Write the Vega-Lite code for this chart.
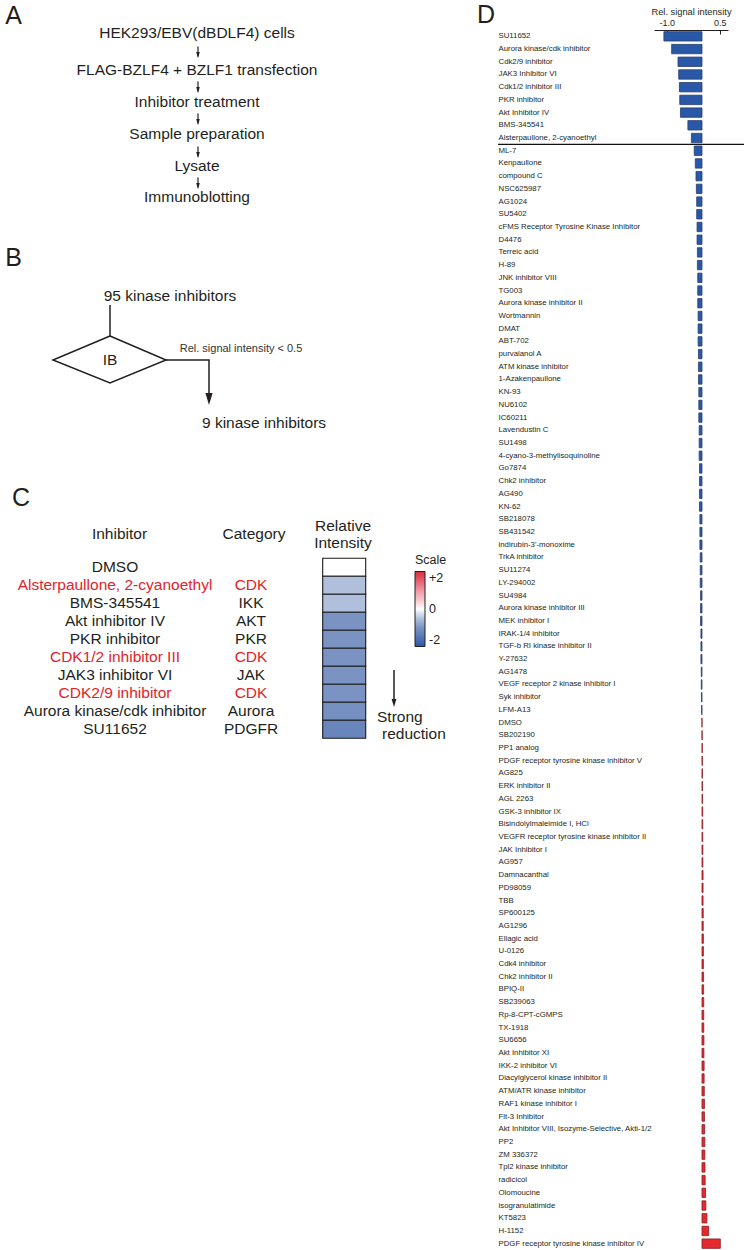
{
  "$schema": "https://vega.github.io/schema/vega-lite/v6.json",
  "background": "white",
  "padding": {"top": 0, "left": 0, "right": 0, "bottom": 0},
  "spacing": 1,
  "config": {"view": {"stroke": null}, "font": "Liberation Sans"},
  "datasets": {
    "c": [
      {"inhibitor": "DMSO", "category": "", "intensity": 0},
      {"inhibitor": "Alsterpaullone, 2-cyanoethyl", "category": "CDK", "intensity": -0.5},
      {"inhibitor": "BMS-345541", "category": "IKK", "intensity": -0.5},
      {"inhibitor": "Akt inhibitor IV", "category": "AKT", "intensity": -1.0},
      {"inhibitor": "PKR inhibitor", "category": "PKR", "intensity": -1.0},
      {"inhibitor": "CDK1/2 inhibitor III", "category": "CDK", "intensity": -1.0},
      {"inhibitor": "JAK3 inhibitor VI", "category": "JAK", "intensity": -1.0},
      {"inhibitor": "CDK2/9 inhibitor", "category": "CDK", "intensity": -1.0},
      {"inhibitor": "Aurora kinase/cdk inhibitor", "category": "Aurora", "intensity": -1.05},
      {"inhibitor": "SU11652", "category": "PDGFR", "intensity": -1.25}
    ],
    "d": [
      {"name": "SU11652", "value": -1.08},
      {"name": "Aurora kinase/cdk inhibitor", "value": -0.86},
      {"name": "Cdk2/9 inhibitor", "value": -0.68},
      {"name": "JAK3 Inhibitor VI", "value": -0.66},
      {"name": "Cdk1/2 inhibitor III", "value": -0.64},
      {"name": "PKR inhibitor", "value": -0.63},
      {"name": "Akt Inhibitor IV", "value": -0.61},
      {"name": "BMS-345541", "value": -0.40},
      {"name": "Alsterpaullone, 2-cyanoethyl", "value": -0.30},
      {"name": "ML-7", "value": -0.22},
      {"name": "Kenpaullone", "value": -0.19},
      {"name": "compound C", "value": -0.17},
      {"name": "NSC625987", "value": -0.16},
      {"name": "AG1024", "value": -0.15},
      {"name": "SU5402", "value": -0.15},
      {"name": "cFMS Receptor Tyrosine Kinase Inhibitor", "value": -0.14},
      {"name": "D4476", "value": -0.14},
      {"name": "Terreic acid", "value": -0.13},
      {"name": "H-89", "value": -0.13},
      {"name": "JNK inhibitor VIII", "value": -0.12},
      {"name": "TG003", "value": -0.12},
      {"name": "Aurora kinase inhibitor II", "value": -0.12},
      {"name": "Wortmannin", "value": -0.11},
      {"name": "DMAT", "value": -0.11},
      {"name": "ABT-702", "value": -0.11},
      {"name": "purvalanol A", "value": -0.10},
      {"name": "ATM kinase inhibitor", "value": -0.10},
      {"name": "1-Azakenpaullone", "value": -0.10},
      {"name": "KN-93", "value": -0.09},
      {"name": "NU6102", "value": -0.09},
      {"name": "IC60211", "value": -0.09},
      {"name": "Lavendustin C", "value": -0.08},
      {"name": "SU1498", "value": -0.08},
      {"name": "4-cyano-3-methylisoquinoline", "value": -0.08},
      {"name": "Go7874", "value": -0.07},
      {"name": "Chk2 inhibitor", "value": -0.07},
      {"name": "AG490", "value": -0.07},
      {"name": "KN-62", "value": -0.07},
      {"name": "SB218078", "value": -0.06},
      {"name": "SB431542", "value": -0.06},
      {"name": "indirubin-3'-monoxime", "value": -0.06},
      {"name": "TrkA inhibitor", "value": -0.05},
      {"name": "SU11274", "value": -0.05},
      {"name": "LY-294002", "value": -0.05},
      {"name": "SU4984", "value": -0.04},
      {"name": "Aurora kinase inhibitor III", "value": -0.04},
      {"name": "MEK inhibitor I", "value": -0.04},
      {"name": "IRAK-1/4 inhibitor", "value": -0.03},
      {"name": "TGF-b RI kinase inhibitor II", "value": -0.03},
      {"name": "Y-27632", "value": -0.03},
      {"name": "AG1478", "value": -0.02},
      {"name": "VEGF receptor 2 kinase inhibitor I", "value": -0.02},
      {"name": "Syk inhibitor", "value": -0.015},
      {"name": "LFM-A13", "value": -0.01},
      {"name": "DMSO", "value": 0},
      {"name": "SB202190", "value": 0.005},
      {"name": "PP1 analog", "value": 0.01},
      {"name": "PDGF receptor tyrosine kinase inhibitor V", "value": 0.01},
      {"name": "AG825", "value": 0.012},
      {"name": "ERK inhibitor II", "value": 0.015},
      {"name": "AGL 2263", "value": 0.015},
      {"name": "GSK-3 inhibitor IX", "value": 0.02},
      {"name": "Bisindolylmaleimide I, HCl", "value": 0.02},
      {"name": "VEGFR receptor tyrosine kinase inhibitor II", "value": 0.02},
      {"name": "JAK Inhibitor I", "value": 0.025},
      {"name": "AG957", "value": 0.025},
      {"name": "Damnacanthal", "value": 0.03},
      {"name": "PD98059", "value": 0.03},
      {"name": "TBB", "value": 0.03},
      {"name": "SP600125", "value": 0.035},
      {"name": "AG1296", "value": 0.035},
      {"name": "Ellagic acid", "value": 0.04},
      {"name": "U-0126", "value": 0.04},
      {"name": "Cdk4 inhibitor", "value": 0.04},
      {"name": "Chk2 inhibitor II", "value": 0.045},
      {"name": "BPIQ-II", "value": 0.045},
      {"name": "SB239063", "value": 0.05},
      {"name": "Rp-8-CPT-cGMPS", "value": 0.05},
      {"name": "TX-1918", "value": 0.05},
      {"name": "SU6656", "value": 0.055},
      {"name": "Akt Inhibitor XI", "value": 0.055},
      {"name": "IKK-2 inhibitor VI", "value": 0.06},
      {"name": "Diacylglycerol kinase inhibitor II", "value": 0.06},
      {"name": "ATM/ATR kinase inhibitor", "value": 0.065},
      {"name": "RAF1 kinase inhibitor I", "value": 0.07},
      {"name": "Flt-3 Inhibitor", "value": 0.07},
      {"name": "Akt Inhibitor VIII, Isozyme-Selective, Akti-1/2", "value": 0.075},
      {"name": "PP2", "value": 0.08},
      {"name": "ZM 336372", "value": 0.08},
      {"name": "Tpl2 kinase inhibitor", "value": 0.085},
      {"name": "radicicol", "value": 0.09},
      {"name": "Olomoucine", "value": 0.10},
      {"name": "isogranulatimide", "value": 0.11},
      {"name": "KT5823", "value": 0.14},
      {"name": "H-1152", "value": 0.19},
      {"name": "PDGF receptor tyrosine kinase inhibitor IV", "value": 0.52}
    ]
  },
  "hconcat": [
    {
      "width": 496,
      "height": 1220,
      "resolve": {"scale": {"y": "independent"}},
      "layer": [
        {
          "data": {"values": [
            {"t": "A", "x": 13.5, "y": 16},
            {"t": "B", "x": 13.5, "y": 258},
            {"t": "C", "x": 21, "y": 498},
            {"t": "D", "x": 486, "y": 15}
          ]},
          "mark": {"type": "text", "fontSize": 25, "color": "#231f20", "align": "center", "baseline": "middle"},
          "encoding": {
            "x": {"field": "x", "type": "quantitative", "scale": {"domain": [0, 496], "nice": false, "zero": false}, "axis": null},
            "y": {"field": "y", "type": "quantitative", "scale": {"domain": [1250, 30], "nice": false, "zero": false}, "axis": null},
            "text": {"field": "t"}
          }
        },
        {
          "data": {"values": [
            {"t": "HEK293/EBV(dBDLF4) cells", "x": 197, "y": 33},
            {"t": "FLAG-BZLF4 + BZLF1 transfection", "x": 197, "y": 70},
            {"t": "Inhibitor treatment", "x": 197, "y": 102},
            {"t": "Sample preparation", "x": 197, "y": 134},
            {"t": "Lysate", "x": 197, "y": 166},
            {"t": "Immunoblotting", "x": 197, "y": 197},
            {"t": "95 kinase inhibitors", "x": 170, "y": 296},
            {"t": "IB", "x": 110, "y": 360},
            {"t": "9 kinase inhibitors", "x": 264, "y": 423},
            {"t": "Inhibitor", "x": 119.5, "y": 534},
            {"t": "Category", "x": 254, "y": 534},
            {"t": "Relative", "x": 343, "y": 526},
            {"t": "Intensity", "x": 343, "y": 543}
          ]},
          "mark": {"type": "text", "fontSize": 15.5, "color": "#231f20", "align": "center", "baseline": "middle"},
          "encoding": {
            "x": {"field": "x", "type": "quantitative", "scale": {"domain": [0, 496], "nice": false, "zero": false}, "axis": null},
            "y": {"field": "y", "type": "quantitative", "scale": {"domain": [1250, 30], "nice": false, "zero": false}, "axis": null},
            "text": {"field": "t"}
          }
        },
        {
          "data": {"values": [
            {"t": "Strong", "x": 377, "y": 717},
            {"t": "reduction", "x": 382, "y": 734}
          ]},
          "mark": {"type": "text", "fontSize": 15.5, "color": "#231f20", "align": "left", "baseline": "middle"},
          "encoding": {
            "x": {"field": "x", "type": "quantitative", "scale": {"domain": [0, 496], "nice": false, "zero": false}, "axis": null},
            "y": {"field": "y", "type": "quantitative", "scale": {"domain": [1250, 30], "nice": false, "zero": false}, "axis": null},
            "text": {"field": "t"}
          }
        },
        {
          "data": {"values": [
            {"t": "Rel. signal intensity < 0.5", "x": 241, "y": 349}
          ]},
          "mark": {"type": "text", "fontSize": 11, "color": "#333333", "align": "center", "baseline": "middle"},
          "encoding": {
            "x": {"field": "x", "type": "quantitative", "scale": {"domain": [0, 496], "nice": false, "zero": false}, "axis": null},
            "y": {"field": "y", "type": "quantitative", "scale": {"domain": [1250, 30], "nice": false, "zero": false}, "axis": null},
            "text": {"field": "t"}
          }
        },
        {
          "data": {"values": [
            {"x": 198, "y": 46.5, "y2": 56.5},
            {"x": 198, "y": 81.5, "y2": 91.5},
            {"x": 198, "y": 113.5, "y2": 123.5},
            {"x": 198, "y": 146.5, "y2": 156.5},
            {"x": 198, "y": 177.5, "y2": 187.5}
          ]},
          "mark": {"type": "rule", "color": "#231f20", "strokeWidth": 1.2},
          "encoding": {
            "x": {"field": "x", "type": "quantitative", "scale": {"domain": [0, 496], "nice": false, "zero": false}, "axis": null},
            "y": {"field": "y", "type": "quantitative", "scale": {"domain": [1250, 30], "nice": false, "zero": false}, "axis": null},
            "y2": {"field": "y2"}
          }
        },
        {
          "data": {"values": [
            {"x": 198, "y": 55},
            {"x": 198, "y": 90},
            {"x": 198, "y": 122},
            {"x": 198, "y": 155},
            {"x": 198, "y": 186}
          ]},
          "mark": {"type": "point", "shape": "M-0.6,-1L0.6,-1L0,1Z", "filled": true, "color": "#231f20", "opacity": 1, "size": 36},
          "encoding": {
            "x": {"field": "x", "type": "quantitative", "scale": {"domain": [0, 496], "nice": false, "zero": false}, "axis": null},
            "y": {"field": "y", "type": "quantitative", "scale": {"domain": [1250, 30], "nice": false, "zero": false}, "axis": null}
          }
        },
        {
          "data": {"values": [
            {"x": 110, "y": 305, "y2": 336},
            {"x": 394, "y": 670, "y2": 702}
          ]},
          "mark": {"type": "rule", "color": "#231f20", "strokeWidth": 1.5},
          "encoding": {
            "x": {"field": "x", "type": "quantitative", "scale": {"domain": [0, 496], "nice": false, "zero": false}, "axis": null},
            "y": {"field": "y", "type": "quantitative", "scale": {"domain": [1250, 30], "nice": false, "zero": false}, "axis": null},
            "y2": {"field": "y2"}
          }
        },
        {
          "data": {"values": [
            {"path": "diamond", "ord": 0, "x": 110, "y": 336},
            {"path": "diamond", "ord": 1, "x": 166, "y": 360},
            {"path": "diamond", "ord": 2, "x": 110, "y": 383},
            {"path": "diamond", "ord": 3, "x": 53, "y": 360},
            {"path": "diamond", "ord": 4, "x": 110, "y": 336},
            {"path": "connector", "ord": 0, "x": 166, "y": 360},
            {"path": "connector", "ord": 1, "x": 209, "y": 360},
            {"path": "connector", "ord": 2, "x": 209, "y": 397}
          ]},
          "mark": {"type": "line", "color": "#231f20", "strokeWidth": 1.5, "strokeJoin": "miter"},
          "encoding": {
            "x": {"field": "x", "type": "quantitative", "scale": {"domain": [0, 496], "nice": false, "zero": false}, "axis": null},
            "y": {"field": "y", "type": "quantitative", "scale": {"domain": [1250, 30], "nice": false, "zero": false}, "axis": null},
            "detail": {"field": "path"},
            "order": {"field": "ord", "type": "quantitative"}
          }
        },
        {
          "data": {"values": [{"x": 209, "y": 399}]},
          "mark": {"type": "point", "shape": "M-0.6,-1L0.6,-1L0,1Z", "filled": true, "color": "#231f20", "opacity": 1, "size": 144},
          "encoding": {
            "x": {"field": "x", "type": "quantitative", "scale": {"domain": [0, 496], "nice": false, "zero": false}, "axis": null},
            "y": {"field": "y", "type": "quantitative", "scale": {"domain": [1250, 30], "nice": false, "zero": false}, "axis": null}
          }
        },
        {
          "data": {"values": [{"x": 394, "y": 703}]},
          "mark": {"type": "point", "shape": "M-0.6,-1L0.6,-1L0,1Z", "filled": true, "color": "#231f20", "opacity": 1, "size": 64},
          "encoding": {
            "x": {"field": "x", "type": "quantitative", "scale": {"domain": [0, 496], "nice": false, "zero": false}, "axis": null},
            "y": {"field": "y", "type": "quantitative", "scale": {"domain": [1250, 30], "nice": false, "zero": false}, "axis": null}
          }
        },
        {
          "data": {"name": "c"},
          "mark": {"type": "text", "fontSize": 15.5, "align": "center", "baseline": "middle"},
          "encoding": {
            "x": {"datum": 115, "type": "quantitative", "scale": {"domain": [0, 496], "nice": false, "zero": false}, "axis": null},
            "y": {"field": "inhibitor", "type": "nominal", "sort": null, "scale": {"type": "band", "range": [528.3, 708.3], "paddingInner": 0, "paddingOuter": 0}, "axis": null},
            "text": {"field": "inhibitor"},
            "color": {"condition": {"test": "datum.category == 'CDK'", "value": "#e2232a"}, "value": "#231f20"}
          }
        },
        {
          "data": {"name": "c"},
          "mark": {"type": "text", "fontSize": 15.5, "align": "center", "baseline": "middle"},
          "encoding": {
            "x": {"datum": 251, "type": "quantitative", "scale": {"domain": [0, 496], "nice": false, "zero": false}, "axis": null},
            "y": {"field": "inhibitor", "type": "nominal", "sort": null, "scale": {"type": "band", "range": [528.3, 708.3], "paddingInner": 0, "paddingOuter": 0}, "axis": null},
            "text": {"field": "category"},
            "color": {"condition": {"test": "datum.category == 'CDK'", "value": "#e2232a"}, "value": "#231f20"}
          }
        },
        {
          "data": {"name": "c"},
          "mark": {"type": "rect", "stroke": "#1a1a1a", "strokeWidth": 1.1},
          "encoding": {
            "x": {"datum": 322.7, "type": "quantitative", "scale": {"domain": [0, 496], "nice": false, "zero": false}, "axis": null},
            "x2": {"datum": 365.7},
            "y": {"field": "inhibitor", "type": "nominal", "sort": null, "scale": {"type": "band", "range": [528.3, 708.3], "paddingInner": 0, "paddingOuter": 0}, "axis": null},
            "fill": {
              "field": "intensity",
              "type": "quantitative",
              "scale": {
                "domain": [-2, -1.5, -1, -0.5, 0, 0.5, 1, 1.5, 2],
                "range": ["#2c55a3", "#5577b6", "#7a93c2", "#b0c0dc", "#ffffff", "#f6c4ca", "#ef96a1", "#e5606f", "#d62f3f"],
                "interpolate": "rgb"
              },
              "legend": {
                "orient": "none",
                "legendX": 415,
                "legendY": 524,
                "direction": "vertical",
                "title": "Scale",
                "titleFontSize": 12.5,
                "titleFontWeight": "normal",
                "titleColor": "#231f20",
                "titlePadding": 5,
                "gradientLength": 75,
                "gradientThickness": 10,
                "gradientStrokeColor": "#231f20",
                "gradientStrokeWidth": 1,
                "values": [-2, 0, 2],
                "labelExpr": "datum.value > 0 ? '+' + datum.value : '' + datum.value",
                "labelFontSize": 12.5,
                "labelColor": "#231f20",
                "labelOffset": 4
              }
            }
          }
        }
      ]
    },
    {
      "width": 74,
      "height": 1220,
      "data": {"name": "d"},
      "layer": [
        {
          "mark": {"type": "bar", "strokeWidth": 0.8},
          "encoding": {
            "y": {
              "field": "name", "type": "nominal", "sort": null,
              "scale": {"paddingInner": 0.26, "paddingOuter": 0.13},
              "axis": {"title": null, "ticks": false, "domain": false, "labelAlign": "left", "labelPadding": 156, "labelFontSize": 7.8, "labelColor": "#231f20", "labelLimit": 220, "labelOverlap": false, "labelBaseline": "middle"}
            },
            "x": {
              "field": "value", "type": "quantitative",
              "scale": {"domain": [-1.36, 0.737], "nice": false},
              "axis": {"orient": "top", "values": [-1, 0.5], "format": ".1f", "labelExpr": "replace(datum.label, '\u2212', '-')", "title": ["", "Rel. signal intensity"], "titleLineHeight": 7, "titleFontSize": 9.3, "titleFontWeight": "normal", "titleColor": "#231f20", "titlePadding": 2, "labelFontSize": 9, "labelColor": "#231f20", "labelPadding": 6.5, "labelFlush": false, "tickSize": -4, "tickColor": "#231f20", "domainColor": "#231f20", "grid": false}
            },
            "fill": {"condition": {"test": "datum.value < 0", "value": "#2a58a8"}, "value": "#e52a2d"},
            "stroke": {"condition": {"test": "datum.value < 0", "value": "#2a3f6e"}, "value": "#8a2026"}
          }
        },
        {
          "data": {"values": [{"name": "ML-7"}]},
          "mark": {"type": "rule", "clip": false, "color": "#111111", "strokeWidth": 1.3},
          "encoding": {
            "y": {"field": "name", "type": "nominal", "sort": null, "bandPosition": -0.175},
            "x": {"datum": -5.78, "type": "quantitative", "scale": {"domain": [-1.36, 0.737], "nice": false}},
            "x2": {"datum": 1.218}
          }
        }
      ]
    }
  ]
}
